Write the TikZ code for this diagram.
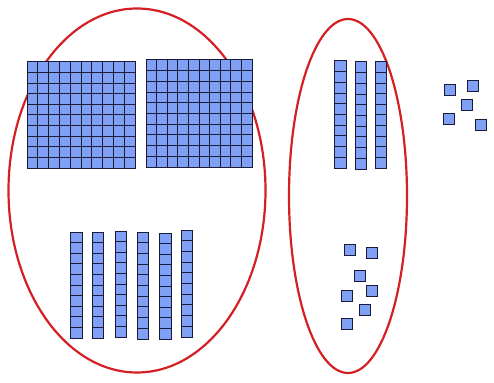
\documentclass[tikz,border=0pt]{standalone}
\definecolor{cube}{RGB}{128,160,246}
\definecolor{edge}{RGB}{24,26,56}
\definecolor{ring}{RGB}{212,32,36}
\newcommand{\unitgrid}[6]{%
  \fill[cube] (#1,#2) rectangle (#3,#4);
  \foreach \i in {0,...,#5} {\draw[cellline] ({#1+(#3-#1)*\i/#5},#2) -- ({#1+(#3-#1)*\i/#5},#4);}
  \foreach \j in {0,...,#6} {\draw[cellline] (#1,{#2+(#4-#2)*\j/#6}) -- (#3,{#2+(#4-#2)*\j/#6});}
}
\newcommand{\unitcube}[2]{%
  \draw[cellline,fill=cube] ({#1-5.5},{#2-5.5}) rectangle ({#1+5.5},{#2+5.5});
}
\begin{document}
\begin{tikzpicture}[x=1pt,y=-1pt,
  cellline/.style={draw=edge,line width=1pt,line cap=rect},
  ringline/.style={draw=ring,line width=2.2pt}]
\useasboundingbox (0,0) rectangle (494,382);
% groups
\draw[ringline] (137,190.5) ellipse [x radius=128.5, y radius=182];
\draw[ringline] (348,196) ellipse [x radius=59, y radius=177];
% hundreds
\unitgrid{27}{62}{135}{168}{10}{10}
\unitgrid{146}{60}{252}{167}{10}{10}
% tens (left)
\unitgrid{70}{232}{82}{338}{1}{10}
\unitgrid{92}{232}{103}{338}{1}{10}
\unitgrid{115}{231}{126}{337}{1}{10}
\unitgrid{137}{232}{148}{339}{1}{10}
\unitgrid{159}{233}{171}{339}{1}{10}
\unitgrid{181}{230}{192}{337}{1}{10}
% tens (right)
\unitgrid{334}{61}{346}{168}{1}{10}
\unitgrid{355}{62}{366}{169}{1}{10}
\unitgrid{375}{62}{386}{168}{1}{10}
% ones in right group
\unitcube{349.7}{249.7}
\unitcube{371.7}{253.3}
\unitcube{359.5}{275.5}
\unitcube{371.7}{290.8}
\unitcube{347.2}{295.8}
\unitcube{365}{310}
\unitcube{346.5}{324.2}
% ones outside
\unitcube{449.5}{90.5}
\unitcube{473.3}{86.2}
\unitcube{467.2}{105.5}
\unitcube{448.8}{118.8}
\unitcube{480.5}{125.5}
\end{tikzpicture}
\end{document}
